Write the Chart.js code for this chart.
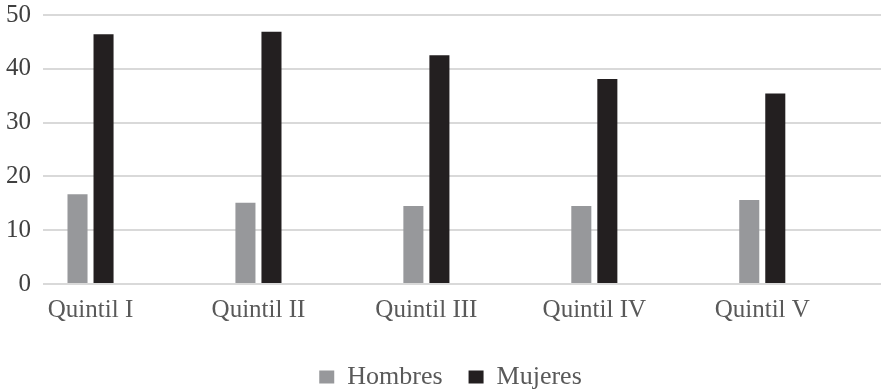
<!DOCTYPE html>
<html lang="es">
<head>
<meta charset="utf-8">
<title>Hombres y mujeres por quintil</title>
<script src="https://cdn.jsdelivr.net/npm/chart.js@4/dist/chart.umd.min.js"></script>
<style>
  html, body { margin: 0; padding: 0; background: #ffffff; }
  #wrap { width: 881px; height: 390px; }
</style>
</head>
<body>
<div id="wrap"><canvas id="grafico"></canvas></div>
<script>
// Categorías y valores por sexo
const categorias = ['Quintil I', 'Quintil II', 'Quintil III', 'Quintil IV', 'Quintil V'];
const hombres = [16.7, 15.1, 14.5, 14.5, 15.6];
const mujeres = [46.4, 46.9, 42.5, 38.1, 35.4];
const ticksY = [0, 10, 20, 30, 40, 50];

const fuente = "'Liberation Serif', 'Times New Roman', serif";

const puntos = (serie) => serie.map((v, i) => ({ x: i, y: v }));

// Desplaza la leyenda un poco a la derecha tras el cálculo del diseño
const desplazarLeyenda = {
  id: 'desplazarLeyenda',
  afterLayout(chart) {
    const l = chart.legend;
    if (l) { l.left += 10; l.right += 10; }
  }
};

new Chart(document.getElementById('grafico'), {
  type: 'bar',
  data: {
    datasets: [
      { label: 'Hombres', data: puntos(hombres), backgroundColor: '#97989b' },
      { label: 'Mujeres', data: puntos(mujeres), backgroundColor: '#231f20' }
    ]
  },
  plugins: [desplazarLeyenda],
  options: {
    responsive: true,
    maintainAspectRatio: false,
    animation: false,
    categoryPercentage: 0.31,
    barPercentage: 0.77,
    layout: { padding: { top: 15, right: 0, left: 0, bottom: -10 } },
    plugins: {
      tooltip: { enabled: false },
      legend: {
        position: 'bottom',
        labels: {
          font: { family: fuente, size: 26 },
          color: '#595959',
          boxWidth: 15,
          boxHeight: 13,
          padding: 26
        }
      }
    },
    scales: {
      x: {
        type: 'linear',
        offset: false,
        min: -0.283,
        max: 4.707,
        grid: { display: false },
        border: { display: false },
        afterFit: (scale) => { scale.height += 10; },
        ticks: {
          stepSize: 1,
          includeBounds: false,
          autoSkip: false,
          maxRotation: 0,
          padding: 3,
          color: '#595959',
          font: { family: fuente, size: 25 },
          callback: (v) => Number.isInteger(v) ? categorias[v] : null
        }
      },
      y: {
        min: ticksY[0],
        max: ticksY[ticksY.length - 1],
        afterBuildTicks: (scale) => { scale.ticks = ticksY.map(v => ({ value: v })); },
        afterFit: (scale) => {
          scale.width = 43;
          scale.paddingTop = 0;
          scale.paddingBottom = 0;
        },
        grid: { color: '#d9d9d9', lineWidth: 2, drawTicks: false },
        border: { display: false },
        ticks: {
          padding: 12,
          color: '#404040',
          font: { family: fuente, size: 25 }
        }
      }
    }
  }
});
</script>
</body>
</html>
